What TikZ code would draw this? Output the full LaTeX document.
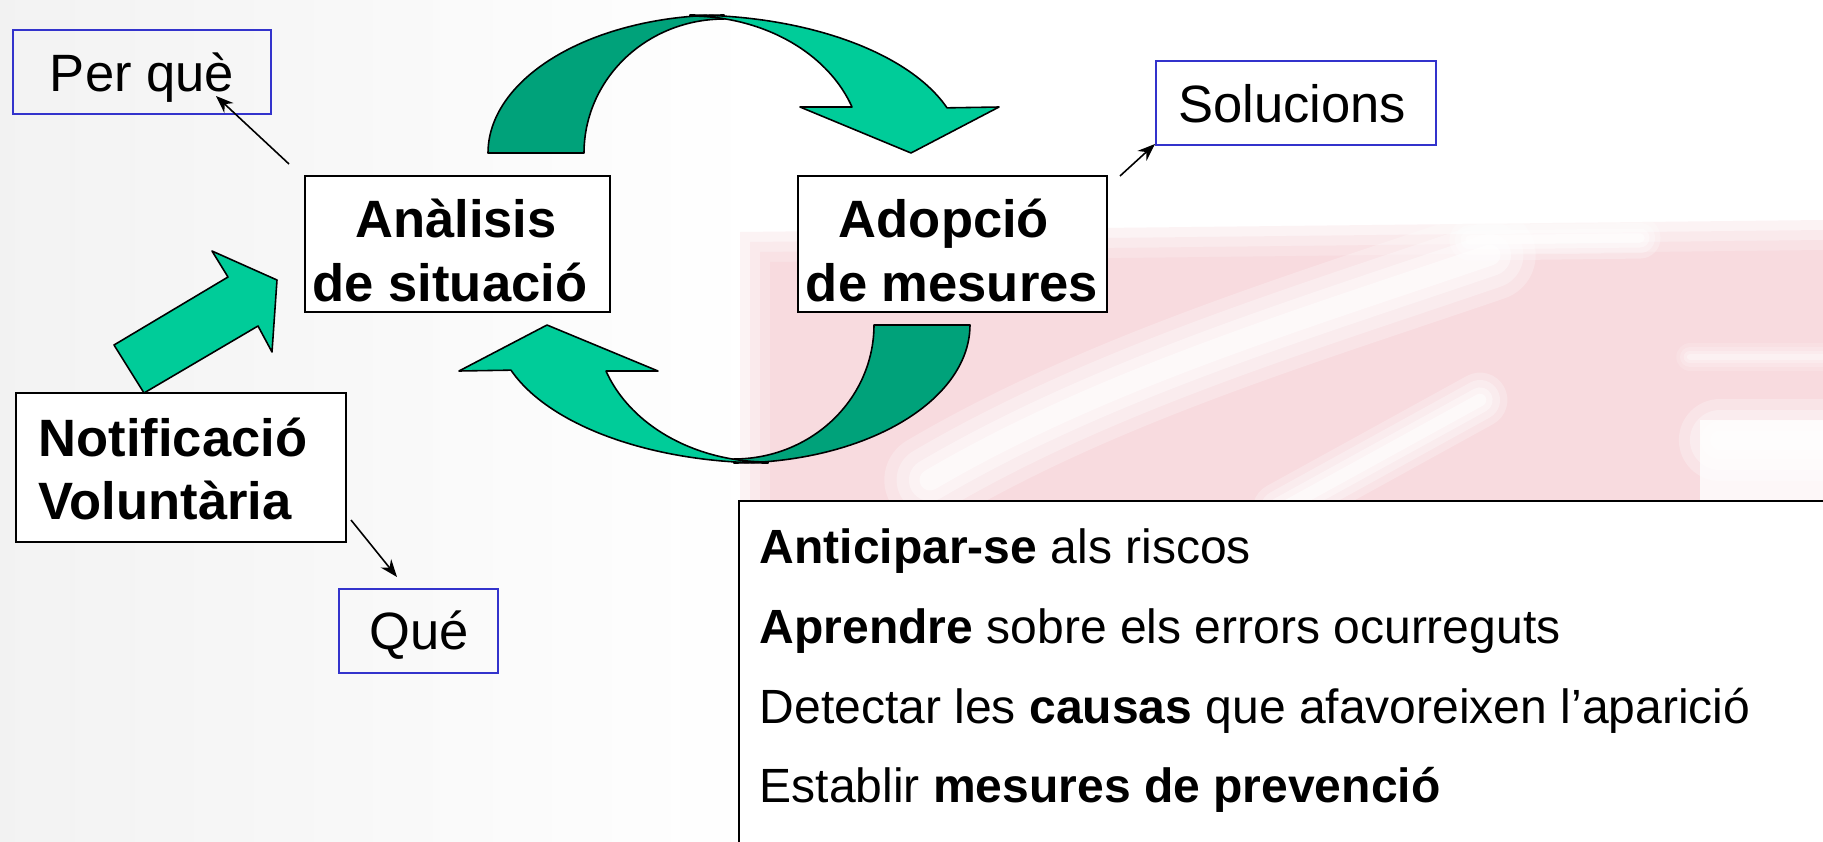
\documentclass[tikz,border=0pt]{standalone}
\usepackage{fontspec}
\setmainfont{Liberation Sans}
\usetikzlibrary{arrows.meta}
\definecolor{lightg}{RGB}{0,204,153}
\definecolor{darkg}{RGB}{0,162,122}
\definecolor{boxblue}{RGB}{51,51,204}
\definecolor{wmpink}{RGB}{247,208,214}
\newcommand\titlesz{\fontsize{14.94pt}{18pt}\selectfont}
\newcommand\listsz{\fontsize{13.66pt}{16pt}\selectfont}
\begin{document}
\begin{tikzpicture}[x=0.01cm,y=-0.01cm,
  blackbox/.style={draw=black,line width=0.6pt,fill=white,inner sep=0pt},
  bluebox/.style={draw=boxblue,line width=0.6pt,inner sep=0pt},
  ttl/.style={anchor=base,inner sep=0pt,font=\titlesz},
  ttlb/.style={anchor=base,inner sep=0pt,font=\titlesz\bfseries},
  lst/.style={anchor=base west,inner sep=0pt,font=\listsz},
  conn/.style={draw=black,line width=0.45pt,-{Stealth[length=5pt,width=3.8pt]}},
  arrowline/.style={draw=black,line width=0.45pt,line join=round},
  softwhite/.style={draw=white,line cap=round,line join=round}]
\useasboundingbox (0,0) rectangle (1823,842);
\clip (0,0) rectangle (1823,842);
% background
\fill[white] (0,0) rectangle (1823,842);
\shade[left color=black!5,right color=white] (0,0) rectangle (760,842);
% faint, soft pink watermark
\foreach \d/\o in {0/0.25,10/0.25,20/0.3,30/0.35}{
  \fill[wmpink,opacity=\o] (740+\d,232+\d) -- (1823,220+\d) -- (1823,520) -- (740+\d,520) -- cycle;
}
\foreach \w/\o in {26/0.25,19/0.3,12/0.4,6/0.5}{
  \draw[softwhite,line width=\w pt,opacity=\o] (930,480) .. controls (1100,380) and (1300,320) .. (1490,255);
  \draw[softwhite,line width=0.6*\w pt,opacity=\o] (1280,510) -- (1480,400);
  \draw[softwhite,line width=0.45*\w pt,opacity=\o] (1470,240) -- (1640,238);
  \draw[softwhite,line width=0.9*\w pt,opacity=\o] (1720,440) -- (1840,440);
  \draw[softwhite,line width=0.3*\w pt,opacity=0.6*\o] (1690,357) -- (1840,357);
}
\fill[white,opacity=0.8] (1700,420) rectangle (1823,500);
% top curved arrow
\begin{scope}
  \filldraw[arrowline,fill=darkg] plot[domain=180:90,samples=50] ({724+236*cos(\x)},{153-138*sin(\x)}) -- plot[domain=90:180,samples=50] ({724+140*cos(\x)},{153-134*sin(\x)}) -- cycle;
  \filldraw[arrowline,fill=lightg] plot[domain=90:19.1,samples=50] ({690+272*cos(\x)},{153-138*sin(\x)}) -- (999,107) -- (911,153) -- (800,107) -- (852,107) -- plot[domain=19.6:90,samples=50] ({690+172*cos(\x)},{153-137*sin(\x)}) -- cycle;
\end{scope}
% bottom curved arrow (point symmetric)
\begin{scope}[rotate around={180:(729,239)}]
  \filldraw[arrowline,fill=darkg] plot[domain=180:90,samples=50] ({724+236*cos(\x)},{153-138*sin(\x)}) -- plot[domain=90:180,samples=50] ({724+140*cos(\x)},{153-134*sin(\x)}) -- cycle;
  \filldraw[arrowline,fill=lightg] plot[domain=90:19.1,samples=50] ({690+272*cos(\x)},{153-138*sin(\x)}) -- (999,107) -- (911,153) -- (800,107) -- (852,107) -- plot[domain=19.6:90,samples=50] ({690+172*cos(\x)},{153-137*sin(\x)}) -- cycle;
\end{scope}
% straight block arrow
\filldraw[arrowline,fill=lightg] (114,345) -- (228,277) -- (212,251) -- (277,280) -- (272,352) -- (258,326) -- (144,393) -- cycle;
% boxes
\node[bluebox,minimum width=2.58cm,minimum height=0.84cm] (perque) at (142,72) {};
\node[blackbox,minimum width=3.05cm,minimum height=1.36cm] (ana) at (457.5,244) {};
\node[blackbox,minimum width=3.09cm,minimum height=1.36cm] (adop) at (952.5,244) {};
\node[blackbox,draw=boxblue,minimum width=2.80cm,minimum height=0.84cm] (sol) at (1296,103) {};
\node[blackbox,minimum width=3.30cm,minimum height=1.49cm] (notif) at (181,467.5) {};
\node[bluebox,minimum width=1.59cm,minimum height=0.84cm] (que) at (418.5,631) {};
\node[blackbox,anchor=north west,minimum width=11.3cm,minimum height=3.7cm] (big) at (738,500) {};
% texts
\node[ttl] (perque-t) at (142,91) {Per què};
\node[ttl] (sol-t) at (1292,122) {Solucions};
\node[ttl] (que-t) at (419,649) {Qué};
\node[ttlb] (ana-t1) at (456,237) {Anàlisis};
\node[ttlb] (ana-t2) at (450,301) {de situació};
\node[ttlb] (adop-t1) at (944,237) {Adopció};
\node[ttlb] (adop-t2) at (952,301) {de mesures};
\node[ttlb,anchor=base west] (notif-t1) at (38,456) {Notificació};
\node[ttlb,anchor=base west] (notif-t2) at (38,519) {Voluntària};
\node[lst] (l1) at (759,563) {\textbf{Anticipar-se} als riscos};
\node[lst] (l2) at (759,643) {\textbf{Aprendre} sobre els errors ocurreguts};
\node[lst] (l3) at (759,723) {Detectar les \textbf{causas} que afavoreixen l’aparició};
\node[lst] (l4) at (759,802) {Establir \textbf{mesures de prevenció}};
% connectors
\coordinate (pq-tail) at (289,164);
\coordinate (pq-tip) at (216,96);
\coordinate (nq-tail) at (351,520);
\coordinate (nq-tip) at (397,577);
\coordinate (as-tail) at (1120,176);
\coordinate (as-tip) at (1155,144);
\draw[conn] (pq-tail) -- (pq-tip);
\draw[conn] (nq-tail) -- (nq-tip);
\draw[conn] (as-tail) -- (as-tip);
\end{tikzpicture}
\end{document}
